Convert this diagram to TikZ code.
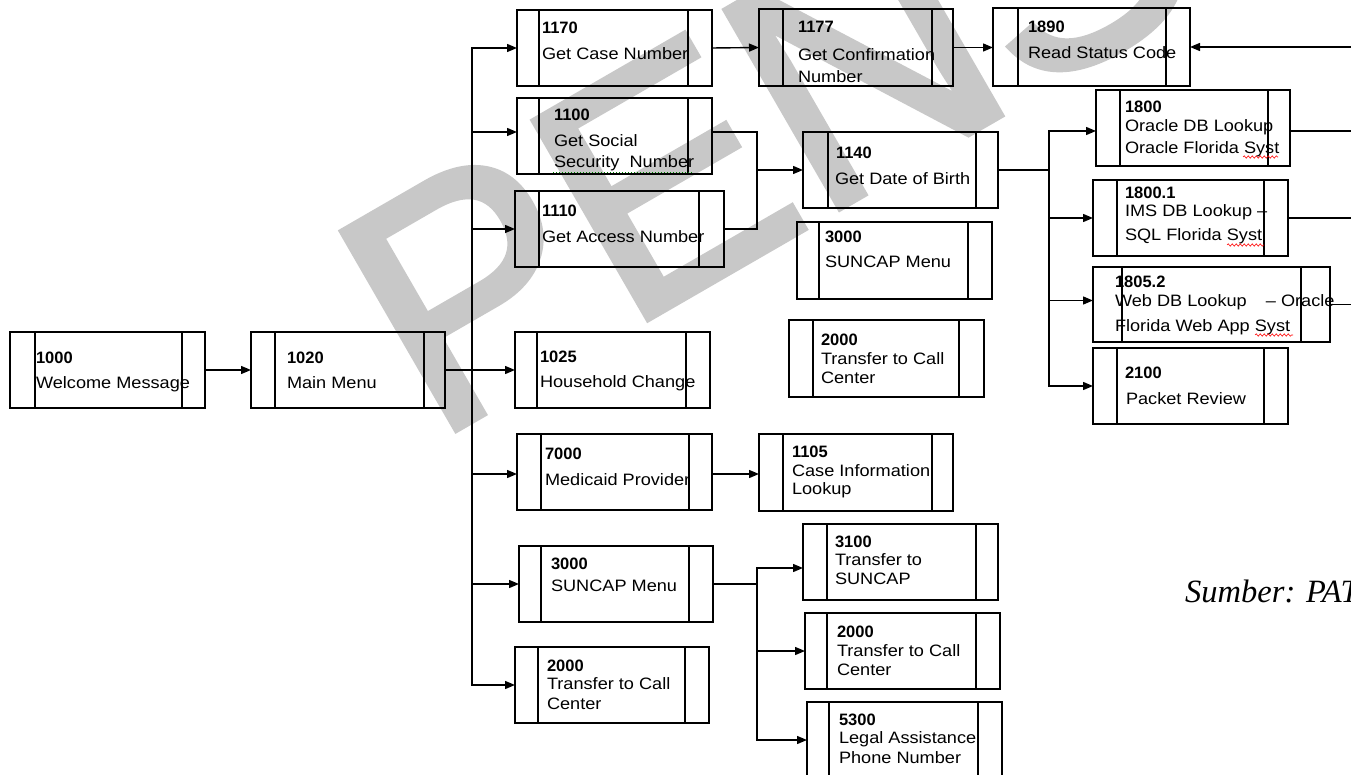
\documentclass[tikz,border=0pt]{standalone}
\usepackage{fontspec}
\setmainfont{Liberation Sans}[FakeStretch=1.1]
\newfontfamily\numfont{Liberation Sans}
\newfontfamily\wmfont{Liberation Sans}[FakeBold=2]
\newfontfamily\srcfont{Liberation Serif}
\usetikzlibrary{arrows.meta,decorations.pathmorphing}
\definecolor{wmgray}{RGB}{200,200,200}
\tikzset{
  pbox/.style n args={4}{draw, line width=1.6pt, rectangle, inner sep=0pt, outer sep=0pt,
    anchor=north west, minimum width=#1, minimum height=#2,
    path picture={
      \draw[line width=1.6pt] ([xshift=#3]path picture bounding box.north west) -- ([xshift=#3]path picture bounding box.south west);
      \draw[line width=1.6pt] ([xshift=-#4]path picture bounding box.north east) -- ([xshift=-#4]path picture bounding box.south east);}},
  txt/.style={anchor=base west, inner sep=0pt, outer sep=0pt, font=\fontsize{16.5}{19}\selectfont},
  num/.style={anchor=base west, inner sep=0pt, outer sep=0pt, font=\numfont\bfseries\fontsize{16.5}{19}\selectfont},
  conn/.style={line width=1.4pt},
  arr/.style={conn, -{Triangle[length=10pt,width=8pt]}},
  squig/.style={red, line width=0.6pt, decorate, decoration={snake, amplitude=1.2pt, segment length=4pt}}
}
\newcommand\pbx[7]{\node[pbox={(#4-#2)*1pt}{(#5-#3)*1pt}{(#6-#2)*1pt}{(#4-#7)*1pt}] (#1) at (#2,#3) {};}
\newcommand\tline[4]{\node[txt] (#1) at (#2,#3) {#4};}
\newcommand\tnum[4]{\node[num] (#1) at (#2,#3) {#4};}
\begin{document}
\begin{tikzpicture}[x=1pt,y=-1pt]
\clip (0,0) rectangle (1351,775);
\fill[white] (0,0) rectangle (1351,775);
% watermark
\node[text=wmgray, font=\wmfont\fontsize{332}{332}\selectfont, rotate=30, anchor=base west, inner sep=0pt, outer sep=0pt] (wmk) at (433,443) {PENS};

% boxes: name, left, top, right, bottom, inner left, inner right
\pbx{b1000}{10}{332}{205}{408}{35}{182}
\pbx{b1020}{251}{332}{445}{408}{275}{424}
\pbx{b1170}{517}{10}{712}{86}{539}{688}
\pbx{b1100}{517}{98}{712}{174}{539}{688}
\pbx{b1110}{515}{191}{724}{267}{539}{699}
\pbx{b1025}{515}{332}{710}{408}{537}{686}
\pbx{b7000}{517}{434}{712}{510}{541}{689}
\pbx{b3000b}{519}{546}{713}{622}{541}{689}
\pbx{b2000b}{515}{647}{709}{723}{538}{685}
\pbx{b1177}{759}{9}{953}{86}{783}{932}
\pbx{b1890}{993}{8}{1190}{86}{1018}{1166}
\pbx{b1140}{803}{132}{998}{208}{828}{976}
\pbx{b3000a}{797}{222}{992}{299}{819}{968}
\pbx{b2000a}{789}{320}{984}{397}{813}{959}
\pbx{b1105}{759}{434}{953}{511}{783}{932}
\pbx{b3100}{803}{524}{998}{600}{827}{976}
\pbx{b2000c}{805}{613}{1000}{689}{827}{976}
\pbx{b5300}{807}{702}{1002}{778}{829}{978}
\pbx{b1800}{1096}{90}{1290}{166}{1120}{1268}
\pbx{b18001}{1093}{180}{1288}{256}{1117}{1264}
\pbx{b18052}{1093}{267}{1330}{342}{1122}{1301}
\pbx{b2100}{1093}{348}{1288}{424}{1117}{1264}

% texts
\tnum{n1000}{36}{363}{1000}\tline{l1000}{36}{388}{Welcome Message}
\tnum{n1020}{287}{363}{1020}\tline{l1020}{287}{388}{Main Menu}
\tnum{n1170}{542}{34}{1170}\tline{l1170}{542}{60}{Get Case Number}
\tnum{n1100}{554}{121}{1100}\tline{l1100a}{554}{147}{Get Social}\tline{l1100b}{554}{168}{Security\ \ Number}
\tnum{n1110}{542}{217}{1110}\tline{l1110}{542}{243}{Get Access Number}
\tnum{n1025}{540}{362}{1025}\tline{l1025}{540}{387}{Household Change}
\tnum{n7000}{545}{459}{7000}\tline{l7000}{545}{485}{Medicaid Provider}
\tnum{n3000b}{551}{569}{3000}\tline{l3000b}{551}{591}{SUNCAP Menu}
\tnum{n2000b}{547}{671}{2000}\tline{l2000ba}{547}{689}{Transfer to Call}\tline{l2000bb}{547}{709}{Center}
\tnum{n1177}{798}{33}{1177}\tline{l1177a}{798}{61}{Get Confirmation}\tline{l1177b}{798}{83}{Number}
\tnum{n1890}{1028}{33}{1890}\tline{l1890}{1028}{59}{Read Status Code}
\tnum{n1140}{836}{159}{1140}\tline{l1140}{835}{185}{Get Date of Birth}
\tnum{n3000a}{825}{243}{3000}\tline{l3000a}{825}{268}{SUNCAP Menu}
\tnum{n2000a}{821}{345}{2000}\tline{l2000aa}{821}{364}{Transfer to Call}\tline{l2000ab}{821}{383}{Center}
\tnum{n1105}{792}{457}{1105}\tline{l1105a}{792}{476}{Case Information}\tline{l1105b}{792}{494}{Lookup}
\tnum{n3100}{835}{547}{3100}\tline{l3100a}{835}{565}{Transfer to}\tline{l3100b}{835}{584}{SUNCAP}
\tnum{n2000c}{837}{637}{2000}\tline{l2000ca}{837}{656}{Transfer to Call}\tline{l2000cb}{837}{675}{Center}
\tnum{n5300}{839}{725}{5300}\tline{l5300a}{839}{743}{Legal Assistance}\tline{l5300b}{839}{763}{Phone Number}
\tnum{n1800}{1125}{113}{1800}\tline{l1800a}{1125}{132}{Oracle DB Lookup}\tline{l1800b}{1125}{154}{Oracle Florida Syst}
\tnum{n18001}{1125}{199}{1800.1}\tline{l18001a}{1125}{217}{IMS DB Lookup –}\tline{l18001b}{1125}{241}{SQL Florida Syst}
\tnum{n18052}{1115}{288}{1805.2}\tline{l18052a}{1115}{307}{Web DB Lookup\hspace{14pt} – Oracle}\tline{l18052b}{1115}{331}{Florida Web App Syst}
\tnum{n2100}{1125}{378}{2100}\tline{l2100}{1126}{404}{Packet Review}

% spell-check marks
\draw[green!50!black, line width=1pt, dotted] (553,173) -- (693,173);
\draw[squig] (1243,157) -- (1278,157);
\draw[squig] (1227,245) -- (1264,245);
\draw[squig] (1255,335) -- (1293,335);

% junction coordinates
\coordinate (trunk) at (472,370);
\coordinate (j1) at (757,170);
\coordinate (j2) at (1049,170);
\coordinate (j3) at (757,584);
\coordinate (redge) at (1360,0);

% connectors
\draw[arr] (b1000.east) -- (b1020.west);
\draw[arr] (b1020.east) -- (b1025.west);
\draw[arr] (trunk) |- (b1170.west);
\draw[arr] (trunk) |- ([yshift=4pt]b1100.west);
\draw[arr] (trunk) |- (b1110.west);
\draw[arr] (trunk) |- ([yshift=-2pt]b7000.west);
\draw[arr] (trunk) |- (b3000b.west);
\draw[arr] (trunk) |- (b2000b.west);
\draw[arr] (b1170.east) -- (b1177.west);
\draw[arr] (b1177.east) -- (b1177.east -| b1890.west);
\draw[conn] ([yshift=4pt]b1100.east) -| (j1);
\draw[conn] (b1110.east) -| (j1);
\draw[arr] (j1) -- (b1140.west);
\draw[conn] (b1140.east) -- (j2);
\draw[arr] (j2) |- ([yshift=-3pt]b1800.west);
\draw[arr] (j2) |- (b18001.west);
\draw[arr] (j2) |- ([yshift=4pt]b18052.west);
\draw[arr] (j2) |- (b2100.west);
\draw[conn] ([yshift=-3pt]b1800.east) -- ([yshift=-3pt]b1800.east -| redge);
\draw[conn] (b18001.east) -- (b18001.east -| redge);
\draw[conn] (b18052.east) -- (b18052.east -| redge);
\draw[arr] (b1890.east -| redge) -- (b1890.east);
\draw[arr] ([yshift=-2pt]b7000.east) -- ([yshift=-2pt]b7000.east -| b1105.west);
\draw[conn] (b3000b.east) -- (j3);
\draw[arr] (j3) |- ([yshift=-6pt]b3100.west);
\draw[arr] (j3) |- (b2000c.west);
\draw[arr] (j3) |- (b5300.west);

% source
\node[anchor=base west, inner sep=0pt, font=\srcfont\itshape\fontsize{32.5}{36}\selectfont] (src) at (1185,602) {Sumber: PAT};
\end{tikzpicture}
\end{document}
